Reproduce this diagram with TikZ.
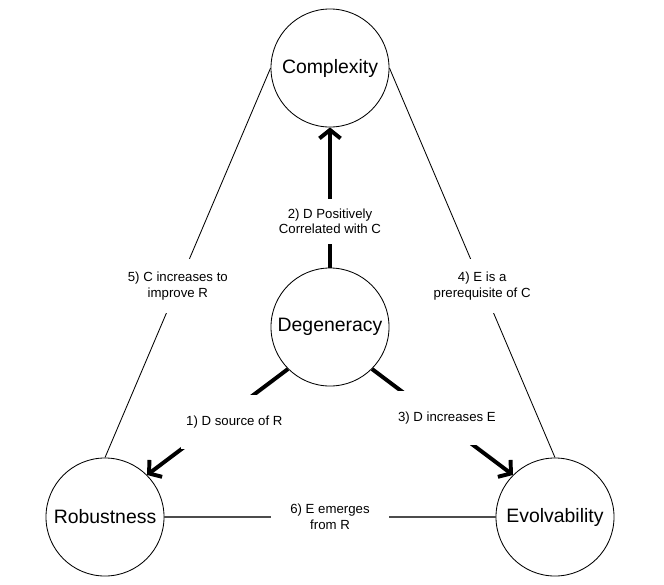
\documentclass[tikz,border=0pt]{standalone}
\usepackage{fontspec}
\setmainfont{Liberation Sans}
\usepackage{tikz}
\usetikzlibrary{arrows.meta}

\begin{document}
\begin{tikzpicture}[x=0.025cm,y=-0.025cm]
        \useasboundingbox (0,0) rectangle (664,585);
        \begin{scope}[
            every node/.style={shape=circle,draw=black,line width=0.6pt,
                minimum size=2.95cm,inner sep=0pt,
                font=\fontsize{13.8}{16}\selectfont}
        ]
            \node (C) at (330, 68) {Complexity};
            \node (D) at (330, 327) {Degeneracy};
            \node (R) at (105, 517) {Robustness};
            \node (E) at (555, 517) {Evolvability};
        \end{scope}
        \begin{scope}[
            every node/.style={fill=white,align=center,inner xsep=4pt,inner ysep=7pt,
                font=\fontsize{9.4}{11.3}\selectfont},
            every edge/.style={draw=black,line width=0.6pt},
            strong/.style={line width=2.8pt,-{Straight Barb[length=6pt,width=15pt]}},
            wide/.style={inner ysep=15pt}
        ]
            \path (D.north) edge[strong] node[pos=0.33] {2) D Positively\\Correlated with C} (C.south);
            \path (D.south west) edge[strong] node[pos=0.5,wide,xshift=0.42cm] {1) D source of R} (R.north east);
            \path (D.south east) edge[strong] node[pos=0.46,wide,xshift=0.25cm] {3) D increases E} (E.north west);

            \path [-] (C.west) edge node[pos=0.56,inner ysep=9pt] {5) C increases to\\improve R} (R.north);
            \path [-] (C.east) edge node[pos=0.56,inner ysep=9pt] {4) E is a\\prerequisite of C} (E.north);
            \path [-] (R.east) edge[draw=black!70,line width=1pt] node[inner xsep=14pt] {6) E emerges\\from R} (E.west);
        \end{scope}
    \end{tikzpicture}
\end{document}
